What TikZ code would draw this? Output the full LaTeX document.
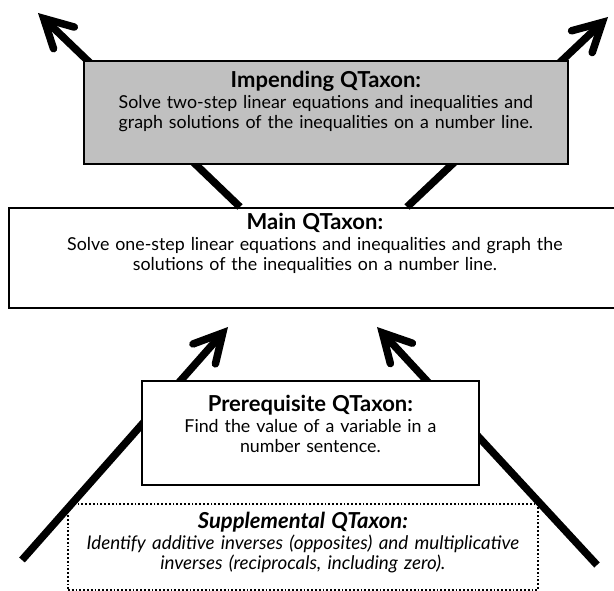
\documentclass[tikz,border=0pt]{standalone}
\usepackage{fontspec}
\setmainfont{Lato}
\usetikzlibrary{arrows.meta,calc}
\definecolor{qgray}{RGB}{192,192,192}
\newcommand{\qtitle}[1]{{\fontsize{22}{20.5}\selectfont\bfseries #1}}
\tikzset{
  qbox/.style={draw=black, line width=1.8pt, fill=white, align=center, anchor=north west,
    inner xsep=0pt, inner ysep=0pt, font=\fontsize{17.8}{20.5}\selectfont},
  qarrow/.style={line width=7.5pt, -{Straight Barb[length=28pt,width=30pt,line cap=round,line join=miter]}},
}

\begin{document}
\begin{tikzpicture}[x=1pt,y=-1pt]
		%%%%% START %%%%%
		\useasboundingbox (0,0) rectangle (614,591);
		
		\node[qbox, dotted, text width=470pt, text height=25pt, text depth=61pt,
		  font=\fontsize{18.8}{20.5}\selectfont\itshape] (supp) at (67,503)
		  {\qtitle{\itshape Supplemental QTaxon:}\\
		   Identify additive inverses (opposites) and multiplicative\\
		   inverses (reciprocals, including zero).};
		
		\node[qbox, text width=612pt, text height=22pt, text depth=78pt] (main) at (8,207)
		  {\qtitle{Main QTaxon:}\\
		   Solve one-step linear equations and inequalities and graph the\\
		   solutions of the inequalities on a number line.};
		
		\coordinate (upleft) at (38,13);
		\coordinate (upright) at (608,17);
		\draw[qarrow] ($(main.north west)+(232,0)$) -- (upleft);
		\draw[qarrow] ($(main.north west)+(399,0)$) -- (upright);
		
		\node[qbox, fill=qgray, text width=484pt, text height=27pt, text depth=76pt] (impending) at (83,60)
		  {\qtitle{Impending QTaxon:}\\
		   Solve two-step linear equations and inequalities and\\
		   graph solutions of the inequalities on a number line.};
		
		\coordinate (lowleft) at (22,560);
		\coordinate (lowright) at (597,565);
		\coordinate (tipleft) at (228,327);
		\coordinate (tipright) at (377,327);
		\draw[qarrow] (lowleft) -- (tipleft);
		\draw[qarrow] (lowright) -- (tipright);
		
		\node[qbox, text width=337pt, text height=31pt, text depth=73pt] (prereq) at (141,380)
		  {\qtitle{Prerequisite QTaxon:}\\
		   Find the value of a variable in a\\
		   number sentence.};
		
		%%%%% END %%%%%
\end{tikzpicture}
\end{document}
